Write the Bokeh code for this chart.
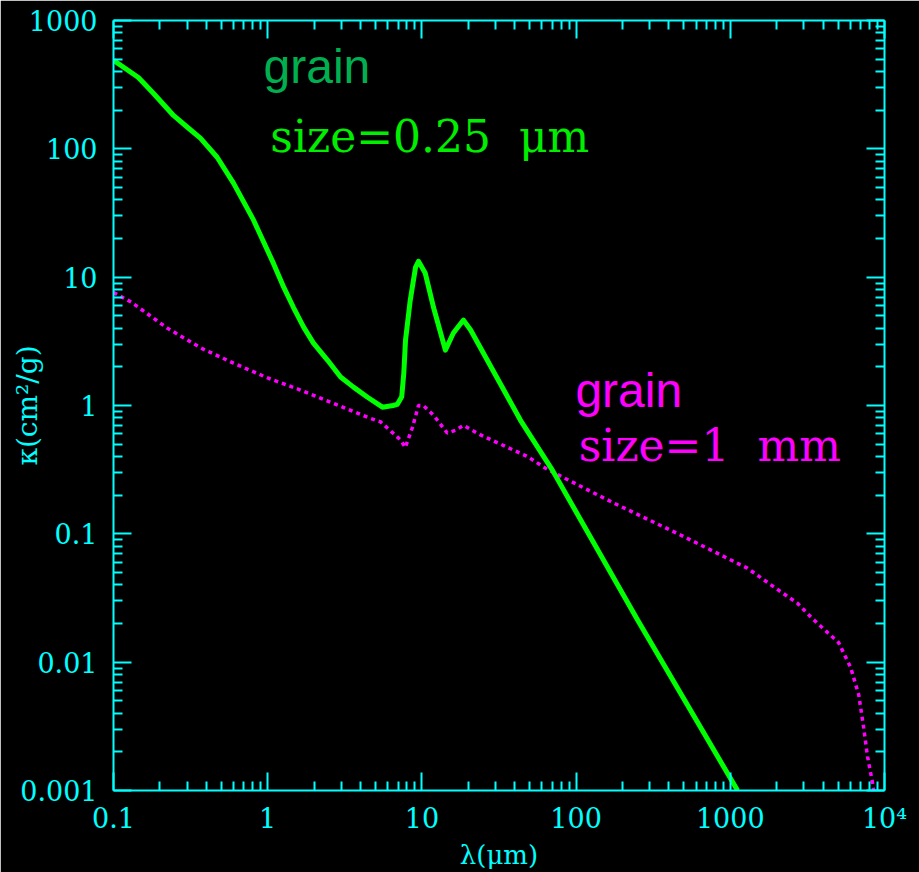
from bokeh.plotting import figure
from bokeh.models import (LogAxis, FixedTicker, CustomJSTickFormatter, Label)
from bokeh.embed import file_html
from bokeh.resources import INLINE

# ---- data ----
LAM_SMALL = [0.1, 0.145, 0.182, 0.245, 0.30, 0.366, 0.47, 0.6, 0.81, 1.09, 1.27, 1.47, 1.71,
             1.98, 2.44, 2.97, 3.6, 4.44, 5.55, 6.5, 6.92, 7.4, 7.63, 7.83, 8.4, 9.1,
             9.5, 10.5, 11.9, 14.2, 16.0, 18.6, 20.7, 30.0, 43.5, 70.0, 250.0, 1115.0]
KAPPA_SMALL = [490, 360, 270, 182, 148, 121, 86, 54, 27.8, 12.8, 8.36, 5.8, 4.08,
               3.06, 2.26, 1.67, 1.39, 1.16, 0.97, 1.0, 1.02, 1.17, 1.78, 3.23, 6.6, 12.0,
               13.3, 10.8, 5.8, 2.7, 3.67, 4.63, 3.87, 1.73, 0.77, 0.315, 0.0214, 0.001]

LAM_LARGE = [0.1, 0.13, 0.224, 0.37, 0.6, 1.0, 1.63, 2.67, 4.43, 5.4, 7.26, 7.8, 8.7,
             9.5, 10.2, 11.9, 14.6, 16.5, 18.6, 24.0, 48.4, 65.0, 175.0, 475.0, 1290.0,
             2116.0, 2716.0, 3470.0, 5040.0, 6030.0, 6800.0, 7310.0, 7760.0, 8360.0, 8500.0]
KAPPA_LARGE = [7.6, 6.4, 4.0, 2.8, 2.14, 1.64, 1.32, 1.04, 0.81, 0.745, 0.54, 0.47, 0.68,
               1.0, 1.0, 0.84, 0.61, 0.64, 0.70, 0.59, 0.40, 0.318, 0.174, 0.098, 0.054,
               0.0355, 0.0289, 0.0214, 0.0142, 0.0091, 0.0056, 0.00315, 0.00184, 0.00115, 0.001]

X_TICKS = [0.1, 1, 10, 100, 1000, 10000]
X_TICK_LABELS = ["0.1", "1", "10", "100", "1000", "10\u2074"]
Y_TICKS = [0.001, 0.01, 0.1, 1, 10, 100, 1000]
Y_TICK_LABELS = ["0.001", "0.01", "0.1", "1", "10", "100", "1000"]

X_LABEL = "\u03bb(\u03bcm)"
Y_LABEL = "\u03ba(cm\u00b2/g)"

CYAN = "#00ffff"
GREEN = "#00ff00"
MAGENTA = "#ff00ff"
SERIF = "DejaVu Serif"
NBSP = "\u00a0"


def minors(lo_exp, hi_exp):
    return [k * 10.0 ** n for n in range(lo_exp, hi_exp) for k in range(2, 10)]


p = figure(width=919, height=872, x_axis_type="log", y_axis_type="log",
           x_range=(0.1, 1e4), y_range=(0.001, 1000),
           output_backend="svg", toolbar_location=None,
           min_border_left=113, min_border_right=35,
           min_border_top=20, min_border_bottom=81)
p.background_fill_color = "black"
p.border_fill_color = "black"
p.outline_line_color = None
p.xgrid.visible = False
p.ygrid.visible = False

xt = FixedTicker(ticks=X_TICKS, minor_ticks=minors(-1, 4))
yt = FixedTicker(ticks=Y_TICKS, minor_ticks=minors(-3, 3))

FMT_CODE = """
const i = t.findIndex(v => Math.abs(Math.log10(v) - Math.log10(tick)) < 1e-6);
return i >= 0 ? l[i] : '';
"""
xfmt = CustomJSTickFormatter(args=dict(t=X_TICKS, l=X_TICK_LABELS), code=FMT_CODE)
yfmt = CustomJSTickFormatter(args=dict(t=Y_TICKS, l=Y_TICK_LABELS), code=FMT_CODE)


def style_axis(ax, labels=True):
    ax.axis_line_color = CYAN
    ax.axis_line_width = 2
    ax.major_tick_line_color = CYAN
    ax.major_tick_line_width = 2
    ax.minor_tick_line_color = CYAN
    ax.minor_tick_line_width = 2
    ax.major_tick_in = 18
    ax.major_tick_out = 0
    ax.minor_tick_in = 9
    ax.minor_tick_out = 0
    if labels:
        ax.major_label_text_color = CYAN
        ax.major_label_text_font = SERIF
        ax.major_label_text_font_size = "27px"
        ax.axis_label_text_color = CYAN
        ax.axis_label_text_font = SERIF
        ax.axis_label_text_font_size = "26px"
        ax.axis_label_text_font_style = "normal"
    else:
        ax.major_label_text_font_size = "0px"
        ax.major_label_text_color = None


xa = p.xaxis[0]
xa.ticker = xt
xa.formatter = xfmt
style_axis(xa)
xa.major_label_standoff = 12
xa.axis_label = X_LABEL
xa.axis_label_standoff = 3

ya = p.yaxis[0]
ya.ticker = yt
ya.formatter = yfmt
style_axis(ya)
ya.major_label_standoff = 16
ya.axis_label = Y_LABEL
ya.axis_label_text_font_size = "28px"
ya.axis_label_standoff = -27

top = LogAxis(ticker=FixedTicker(ticks=X_TICKS, minor_ticks=minors(-1, 4)))
style_axis(top, labels=False)
p.add_layout(top, "above")
right = LogAxis(ticker=FixedTicker(ticks=Y_TICKS, minor_ticks=minors(-3, 3)))
style_axis(right, labels=False)
p.add_layout(right, "right")

p.line(LAM_LARGE, KAPPA_LARGE, line_color=MAGENTA, line_width=3.5, line_dash="4 4")
p.line(LAM_SMALL, KAPPA_SMALL, line_color=GREEN, line_width=5, line_join="round")

p.add_layout(Label(x=0.94, y=435, text="grain", text_color="#00b050",
                   text_font="Liberation Sans", text_font_size="48px",
                   text_baseline="alphabetic"))
p.add_layout(Label(x=1.04, y=124, text="size=0.25" + NBSP + NBSP + "\u03bcm",
                   text_color="#00ee00",
                   text_font=SERIF, text_font_size="44px",
                   text_baseline="alphabetic"))
p.add_layout(Label(x=99, y=1.3, text="grain", text_color=MAGENTA,
                   text_font="Liberation Sans", text_font_size="48px",
                   text_baseline="alphabetic"))
p.add_layout(Label(x=104, y=0.49, text="size=1" + NBSP + NBSP + "mm", text_color=MAGENTA,
                   text_font=SERIF, text_font_size="44px",
                   text_baseline="alphabetic"))

open("out.html", "w").write(file_html(p, INLINE))
